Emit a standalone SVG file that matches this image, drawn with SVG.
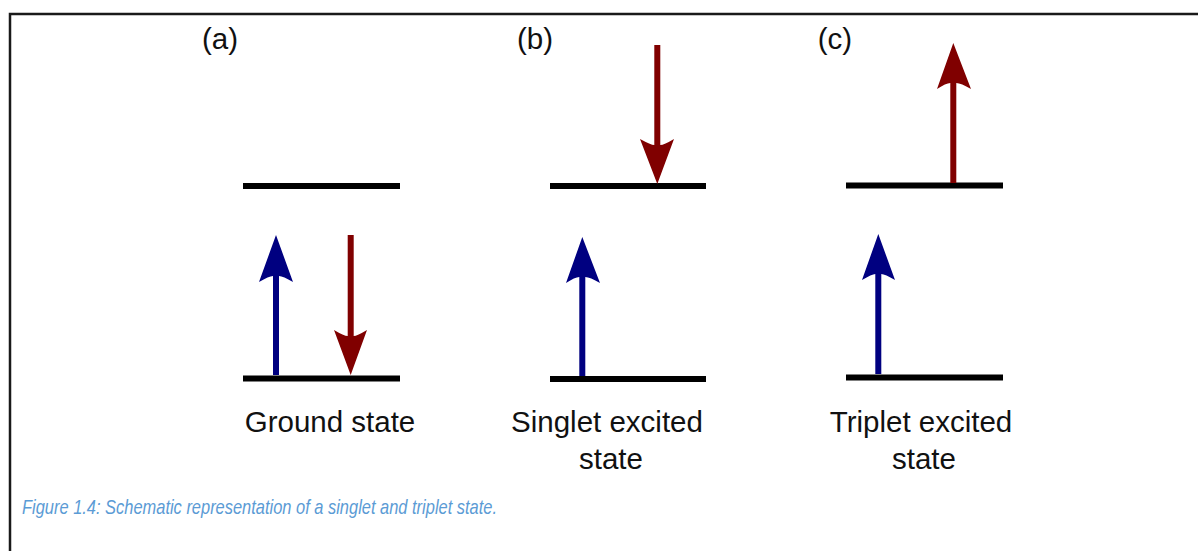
<svg xmlns="http://www.w3.org/2000/svg" width="1198" height="551" viewBox="0 0 1198 551">
<style>
.frame{stroke:#1a1a1a;stroke-width:2.5;fill:none}
.lvl{stroke:#000;stroke-width:6;fill:none}
.up{fill:#000080}
.dn{fill:#800000}
.lbl{font-family:"Liberation Sans",Arial,sans-serif;font-size:29.5px;fill:#111}
.cap{font-family:"Liberation Sans",Arial,sans-serif;font-style:italic;font-size:21px;fill:#5B9BD5}
</style>
<rect width="1198" height="551" fill="#fff"/>
<path class="frame" d="M10,551 V14 H1198"/>
<text class="lbl" x="220" y="49" text-anchor="middle">(a)</text>
<text class="lbl" x="535" y="49" text-anchor="middle">(b)</text>
<text class="lbl" x="835" y="49" text-anchor="middle">(c)</text>
<g id="ground">
<line class="lvl" x1="243" y1="186" x2="400" y2="186"/>
<line class="lvl" x1="243" y1="378.5" x2="400" y2="378.5"/>
<text class="lbl" x="330" y="432" text-anchor="middle">Ground state</text>
</g>
<g id="singlet">
<line class="lvl" x1="550" y1="186" x2="706" y2="186"/>
<line class="lvl" x1="550" y1="379" x2="706" y2="379"/>
<text class="lbl" x="607" y="432" text-anchor="middle">Singlet excited</text>
<text class="lbl" x="611" y="469" text-anchor="middle">state</text>
</g>
<g id="triplet">
<line class="lvl" x1="846" y1="185.5" x2="1003" y2="185.5"/>
<line class="lvl" x1="846" y1="377.5" x2="1003" y2="377.5"/>
<text class="lbl" x="921" y="432" text-anchor="middle">Triplet excited</text>
<text class="lbl" x="924" y="469" text-anchor="middle">state</text>
</g>
<g id="connectors">
<path class="up" d="M276,235 L293,282 Q283,276 279,276 L279,375 L273,375 L273,276 Q269,276 259,282 Z"/>
<path class="dn" d="M350.7,375 L367,330 Q357,336 353.7,336 L353.7,235 L347.7,235 L347.7,336 Q344,336 334,330 Z"/>
<path class="dn" d="M657.3,184 L674,139 Q664,145 660.3,145 L660.3,45 L654.3,45 L654.3,145 Q651,145 640,139 Z"/>
<path class="up" d="M582.3,237 L600,283 Q590,277 585.3,277 L585.3,376 L579.3,376 L579.3,277 Q575,277 566,283 Z"/>
<path class="dn" d="M953.3,43 L971,89 Q961,83 956.3,83 L956.3,183 L950.3,183 L950.3,83 Q946,83 937,89 Z"/>
<path class="up" d="M878.3,234 L895,280 Q885,274 881.3,274 L881.3,374 L875.3,374 L875.3,274 Q872,274 862,280 Z"/>
</g>
<text class="cap" x="22" y="514" textLength="475" lengthAdjust="spacingAndGlyphs">Figure 1.4: Schematic representation of a singlet and triplet state.</text>
</svg>
